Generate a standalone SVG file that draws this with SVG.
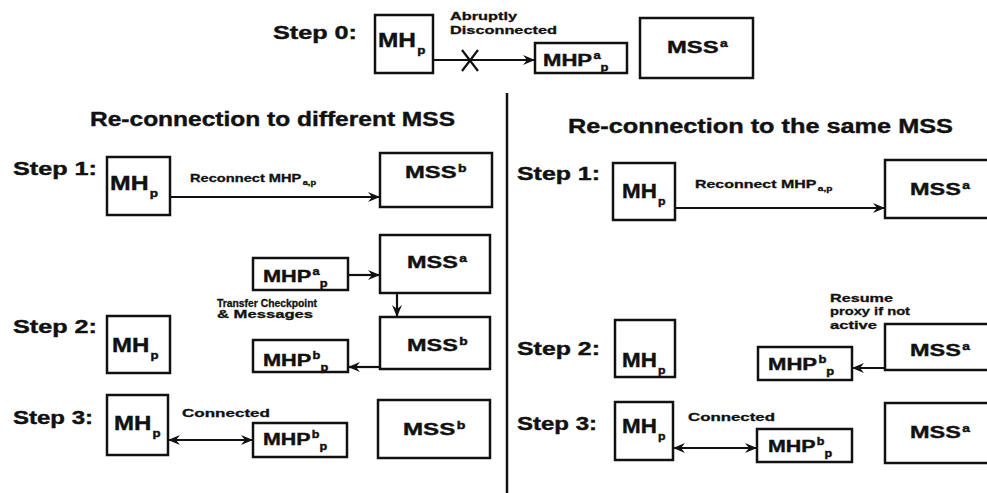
<svg xmlns="http://www.w3.org/2000/svg" width="987" height="493" viewBox="0 0 987 493">
<style>
.box{fill:#fff;stroke:#111;stroke-width:2.5}
.t{font-family:"Liberation Sans",Arial,Helvetica,sans-serif;font-weight:bold;fill:#111;stroke:#111;stroke-width:0.4}
.con{stroke:#111;stroke-width:2.2;fill:none}
.step{font-size:18px}
.hdr{font-size:20px}
.sm{font-size:11px;stroke-width:0.3}
.mh{font-size:20px}
.mhp{font-size:17px}
.mss{font-size:17px}
.sub{font-size:11px}
.sup{font-size:10px}
</style>
<defs>
<marker id="ah" markerUnits="userSpaceOnUse" viewBox="0 0 12 10" markerWidth="12" markerHeight="10" refX="12" refY="5" orient="auto-start-reverse">
<path d="M0,0 L12,5 L0,10 L4,5 z" fill="#111"/>
</marker>
</defs>
<rect width="987" height="493" fill="#fff"/>

<!-- headings and step labels -->
<g id="labels" class="t">
<text class="step" x="273" y="39" textLength="84" lengthAdjust="spacingAndGlyphs">Step 0:</text>
<text class="hdr" x="90" y="126" textLength="365" lengthAdjust="spacingAndGlyphs">Re-connection to different MSS</text>
<text class="hdr" x="568" y="133" textLength="385" lengthAdjust="spacingAndGlyphs">Re-connection to the same MSS</text>
<text class="step" x="13" y="175" textLength="84" lengthAdjust="spacingAndGlyphs">Step 1:</text>
<text class="step" x="13" y="333" textLength="84" lengthAdjust="spacingAndGlyphs">Step 2:</text>
<text class="step" x="13" y="424" textLength="80" lengthAdjust="spacingAndGlyphs">Step 3:</text>
<text class="step" x="517" y="180" textLength="83" lengthAdjust="spacingAndGlyphs">Step 1:</text>
<text class="step" x="517" y="355" textLength="83" lengthAdjust="spacingAndGlyphs">Step 2:</text>
<text class="step" x="517" y="430" textLength="80" lengthAdjust="spacingAndGlyphs">Step 3:</text>
</g>

<!-- Step 0 -->
<g id="s0-mhp" class="t"><rect class="box" x="375" y="15" width="58" height="58"/>
<text class="mh" transform="translate(378,47) scale(1.22,1)">MH<tspan class="sub" dx="1" dy="7">p</tspan></text></g>
<g id="s0-proxy" class="t"><rect class="box" x="535" y="43" width="92" height="30"/>
<text class="mhp" transform="translate(543,66) scale(1.3,1)">MHP<tspan class="sup" dx="1" dy="-7">a</tspan><tspan class="sup" dy="12">p</tspan></text></g>
<g id="s0-mss" class="t"><rect class="box" x="640" y="18" width="113" height="60"/>
<text class="mss" transform="translate(667,53) scale(1.4,1)">MSS<tspan class="sup" dx="1" dy="-6">a</tspan></text></g>

<!-- Left Step 1 -->
<g id="l1-mhp" class="t"><rect class="box" x="107" y="157" width="63" height="58"/>
<text class="mh" transform="translate(110,190) scale(1.24,1)">MH<tspan class="sub" dx="1" dy="7">p</tspan></text></g>
<g id="l1-mss" class="t"><rect class="box" x="380" y="153" width="112" height="54"/>
<text class="mss" transform="translate(405,178) scale(1.4,1)">MSS<tspan class="sup" dx="1" dy="-6">b</tspan></text></g>

<!-- Left Step 2 -->
<g id="l2-proxya" class="t"><rect class="box" x="253" y="258" width="95" height="32"/>
<text class="mhp" transform="translate(263,282) scale(1.28,1)">MHP<tspan class="sup" dx="1" dy="-7">a</tspan><tspan class="sup" dy="12">p</tspan></text></g>
<g id="l2-mssa" class="t"><rect class="box" x="380" y="235" width="110" height="58"/>
<text class="mss" transform="translate(407,268) scale(1.38,1)">MSS<tspan class="sup" dx="1" dy="-6">a</tspan></text></g>
<g id="l2-mssb" class="t"><rect class="box" x="380" y="317" width="110" height="52"/>
<text class="mss" transform="translate(407,351) scale(1.38,1)">MSS<tspan class="sup" dx="1" dy="-6">b</tspan></text></g>
<g id="l2-mhp" class="t"><rect class="box" x="107" y="316" width="63" height="57"/>
<text class="mh" transform="translate(112,352) scale(1.2,1)">MH<tspan class="sub" dx="1" dy="7">p</tspan></text></g>
<g id="l2-proxyb" class="t"><rect class="box" x="253" y="340" width="95" height="32"/>
<text class="mhp" transform="translate(263,366) scale(1.28,1)">MHP<tspan class="sup" dx="1" dy="-7">b</tspan><tspan class="sup" dy="12">p</tspan></text></g>

<!-- Left Step 3 -->
<g id="l3-mhp" class="t"><rect class="box" x="107" y="395" width="61" height="60"/>
<text class="mh" transform="translate(114,430) scale(1.2,1)">MH<tspan class="sub" dx="1" dy="7">p</tspan></text></g>
<g id="l3-proxyb" class="t"><rect class="box" x="253" y="423" width="94" height="34"/>
<text class="mhp" transform="translate(263,445) scale(1.26,1)">MHP<tspan class="sup" dx="1" dy="-7">b</tspan><tspan class="sup" dy="12">p</tspan></text></g>
<g id="l3-mss" class="t"><rect class="box" x="378" y="400" width="112" height="58"/>
<text class="mss" transform="translate(403,435) scale(1.42,1)">MSS<tspan class="sup" dx="1" dy="-6">b</tspan></text></g>

<!-- Right Step 1 -->
<g id="r1-mhp" class="t"><rect class="box" x="613" y="163" width="62" height="57"/>
<text class="mh" transform="translate(622,198) scale(1.12,1)">MH<tspan class="sub" dx="1" dy="7">p</tspan></text></g>
<g id="r1-mss" class="t"><rect class="box" x="885" y="160" width="130" height="58"/>
<text class="mss" transform="translate(910,195) scale(1.38,1)">MSS<tspan class="sup" dx="1" dy="-6">a</tspan></text></g>

<!-- Right Step 2 -->
<g id="r2-mhp" class="t"><rect class="box" x="615" y="320" width="60" height="57"/>
<text class="mh" transform="translate(622,367) scale(1.12,1)">MH<tspan class="sub" dx="1" dy="7">p</tspan></text></g>
<g id="r2-proxyb" class="t"><rect class="box" x="758" y="347" width="94" height="33"/>
<text class="mhp" transform="translate(768,370) scale(1.3,1)">MHP<tspan class="sup" dx="1" dy="-7">b</tspan><tspan class="sup" dy="12">p</tspan></text></g>
<g id="r2-mss" class="t"><rect class="box" x="885" y="324" width="130" height="46"/>
<text class="mss" transform="translate(910,356) scale(1.38,1)">MSS<tspan class="sup" dx="1" dy="-6">a</tspan></text></g>

<!-- Right Step 3 -->
<g id="r3-mhp" class="t"><rect class="box" x="615" y="402" width="58" height="58"/>
<text class="mh" transform="translate(622,433) scale(1.12,1)">MH<tspan class="sub" dx="1" dy="7">p</tspan></text></g>
<g id="r3-proxyb" class="t"><rect class="box" x="757" y="429" width="95" height="33"/>
<text class="mhp" transform="translate(768,452) scale(1.26,1)">MHP<tspan class="sup" dx="1" dy="-7">b</tspan><tspan class="sup" dy="12">p</tspan></text></g>
<g id="r3-mss" class="t"><rect class="box" x="885" y="403" width="130" height="60"/>
<text class="mss" transform="translate(910,438) scale(1.38,1)">MSS<tspan class="sup" dx="1" dy="-6">a</tspan></text></g>

<!-- connectors -->
<g id="connectors">
<line class="con" x1="433" y1="60" x2="535" y2="60" marker-end="url(#ah)"/>
<path class="con" stroke-width="2.6" d="M462,50 L478,71 M478,50 L462,71"/>
<line class="con" x1="170" y1="197" x2="380" y2="197" marker-end="url(#ah)"/>
<line class="con" x1="348" y1="275" x2="380" y2="275" marker-end="url(#ah)"/>
<line class="con" x1="397" y1="293" x2="397" y2="317" marker-end="url(#ah)"/>
<line class="con" x1="380" y1="367" x2="348" y2="367" marker-end="url(#ah)"/>
<line class="con" x1="168" y1="440" x2="253" y2="440" marker-start="url(#ah)" marker-end="url(#ah)"/>
<line class="con" x1="675" y1="208" x2="885" y2="208" marker-end="url(#ah)"/>
<line class="con" x1="885" y1="368" x2="852" y2="368" marker-end="url(#ah)"/>
<line class="con" x1="673" y1="448" x2="757" y2="448" marker-start="url(#ah)" marker-end="url(#ah)"/>
</g>

<!-- connector labels -->
<g id="connector-labels" class="t sm">
<text x="450" y="20" textLength="67" lengthAdjust="spacingAndGlyphs">Abruptly</text>
<text x="450" y="34" textLength="107" lengthAdjust="spacingAndGlyphs">Disconnected</text>
<text transform="translate(190,182) scale(1.33,1)">Reconnect MHP<tspan font-size="7" dx="1" dy="3">a,p</tspan></text>
<text x="217" y="307" textLength="100" lengthAdjust="spacingAndGlyphs">Transfer Checkpoint</text>
<text x="217" y="318" textLength="96" lengthAdjust="spacingAndGlyphs">&amp; Messages</text>
<text x="182" y="417" textLength="88" lengthAdjust="spacingAndGlyphs">Connected</text>
<text transform="translate(695,188) scale(1.45,1)">Reconnect MHP<tspan font-size="7" dx="1" dy="3">a,p</tspan></text>
<text x="830" y="302" textLength="63" lengthAdjust="spacingAndGlyphs">Resume</text>
<text x="830" y="315" textLength="80" lengthAdjust="spacingAndGlyphs">proxy if not</text>
<text x="830" y="329" textLength="47" lengthAdjust="spacingAndGlyphs">active</text>
<text x="688" y="421" textLength="87" lengthAdjust="spacingAndGlyphs">Connected</text>
</g>

<line id="divider" x1="507" y1="93" x2="507" y2="493" stroke="#111" stroke-width="2.5"/>
</svg>
